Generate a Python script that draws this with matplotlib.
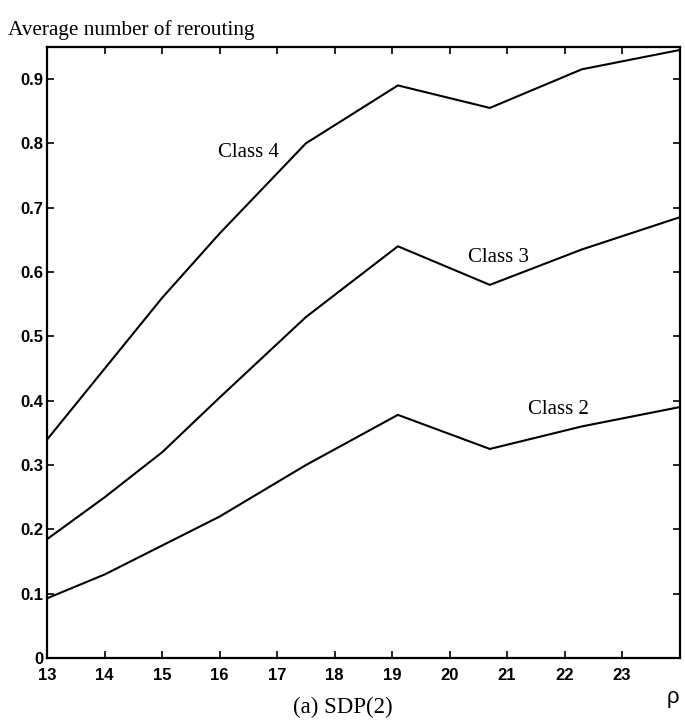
import matplotlib.pyplot as plt
from matplotlib.ticker import FuncFormatter

rho = [13, 14, 15, 16, 17.5, 19.1, 20.7, 22.3, 24]
class4 = [0.34, 0.45, 0.56, 0.66, 0.80, 0.89, 0.855, 0.915, 0.945]
class3 = [0.185, 0.25, 0.32, 0.405, 0.53, 0.64, 0.58, 0.635, 0.685]
class2 = [0.093, 0.13, 0.175, 0.22, 0.30, 0.378, 0.325, 0.36, 0.39]

xticks = list(range(13, 24))
yticks = [0, 0.1, 0.2, 0.3, 0.4, 0.5, 0.6, 0.7, 0.8, 0.9]

serif = ["Liberation Serif", "DejaVu Serif"]
sans = ["Liberation Sans Narrow", "Liberation Sans", "DejaVu Sans"]

fig = plt.figure(figsize=(6.85, 7.2), dpi=100)
ax = fig.add_axes([0.069, 0.086, 0.923, 0.849])

for ys in (class4, class3, class2):
    ax.plot(rho, ys, color="black", lw=1.5)

ax.text(16.5, 0.785, "Class 4", family=serif, fontsize=15, ha="center", va="center")
ax.text(20.85, 0.622, "Class 3", family=serif, fontsize=15, ha="center", va="center")
ax.text(21.9, 0.387, "Class 2", family=serif, fontsize=15, ha="center", va="center")

ax.set_xlim(13, 24)
ax.set_ylim(0, 0.95)
ax.set_xticks(xticks)
ax.set_yticks(yticks)
ax.yaxis.set_major_formatter(FuncFormatter(lambda v, p: "0" if v == 0 else f"{v:.1f}"))
ax.tick_params(direction="in", length=5, width=1.2, top=True, right=True,
               labeltop=False, labelright=False, pad=3)
ax.tick_params(axis="x", pad=7)
for lab in ax.get_xticklabels() + ax.get_yticklabels():
    lab.set_family(sans)
    lab.set_fontsize(12)
    lab.set_fontweight("bold")
for s in ax.spines.values():
    s.set_linewidth(1.6)

fig.text(0.012, 0.958, "Average number of rerouting", family=serif, fontsize=15.3,
         ha="left", va="center")
fig.text(0.5, 0.017, "(a) SDP(2)", family=serif, fontsize=16.5, ha="center", va="center")
fig.text(0.982, 0.031, "ρ", family=sans, fontsize=16, ha="center", va="center")

fig.savefig("out.png", dpi=100)
